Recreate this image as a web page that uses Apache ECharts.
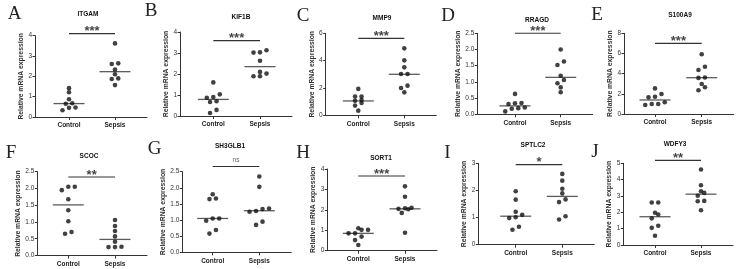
<!DOCTYPE html>
<html><head><meta charset="utf-8">
<script src="https://cdn.jsdelivr.net/npm/echarts@6/dist/echarts.min.js"></script>
<style>html,body{margin:0;padding:0;background:#fff}#c{width:737px;height:269px}</style>
</head><body><div id="c"></div>
<script>
// ---------- data ----------
const genes = ['ITGAM','KIF1B','MMP9','RRAGD','S100A9','SCOC','SH3GLB1','SORT1','SPTLC2','WDFY3'];
const letters = ['A','B','C','D','E','F','G','H','I','J'];
const groups = ['Control','Sepsis'];
const controlValues = [
  [1.42,1.22,0.87,0.68,0.65,0.47,0.45,0.33],
  [1.60,1.03,0.90,0.87,0.70,0.67,0.29,0.14],
  [1.93,1.37,1.37,1.12,1.07,0.90,0.71,0.34],
  [0.63,0.35,0.34,0.32,0.21,0.19,0.17,0.09],
  [2.54,1.98,1.71,1.65,1.16,0.99,0.99,0.89],
  [2.05,2.05,1.95,1.68,1.35,1.02,0.70,0.65],
  [1.80,1.67,1.65,1.05,1.05,0.98,0.69,0.58],
  [1.10,1.02,1.02,0.85,0.85,0.69,0.52,0.28],
  [1.97,1.66,1.21,1.10,1.01,0.98,0.66,0.55],
  [2.60,2.60,1.97,1.87,1.63,1.18,1.05,0.57]
];
const sepsisValues = [
  [3.62,2.64,2.61,2.34,2.10,1.90,1.87,1.57],
  [3.13,3.03,3.02,2.63,2.10,2.02,1.89,1.89],
  [4.90,4.02,3.51,3.02,3.02,2.17,2.00,1.68],
  [2.00,1.63,1.52,1.19,1.06,0.96,0.83,0.68],
  [5.92,4.69,4.36,3.62,3.58,2.97,2.65,2.35],
  [1.06,0.88,0.73,0.57,0.41,0.26,0.25,0.25],
  [2.35,2.03,1.36,1.34,1.28,1.26,0.95,0.85],
  [3.15,2.64,2.10,2.08,2.05,2.03,1.85,0.88],
  [2.61,2.36,2.06,1.89,1.67,1.57,1.05,0.93],
  [4.62,3.66,3.29,3.19,3.01,2.70,2.68,2.13]
];
const controlMedian = [0.66,0.79,1.05,0.26,1.39,1.51,1.05,0.85,1.05,1.73];
const sepsisMedian  = [2.23,2.35,3.00,1.14,3.60,0.48,1.29,2.05,1.78,3.11];
const significance  = ['***','***','***','***','***','**','ns','***','*','**'];
const bracketHeight = [4.10,3.59,5.63,2.50,7.00,2.34,2.66,3.66,2.95,5.18];
const yMax  = [4,4,6,2.5,8,2.5,2.5,4,3,5];
const yStep = [1,1,2,0.5,2,0.5,0.5,1,1,1];
const yAxisTitle = 'Relative mRNA expression';

// ---------- layout (pixels) ----------
// [axisX, controlX, sepsisX, yTop, yZero]
const panelBox = [
  [35,69,115,35.7,117],[180,213.3,260,32,116],[325.7,358.3,404.3,33.3,115.3],
  [477.3,515,560.7,33.3,114.3],[624,655,701.7,33.3,114],
  [37.3,68.3,115,171.7,255.5],[182.3,212.7,259.3,171.7,252.3],[327.3,358.3,405,169,250.7],
  [478.3,515.7,562.3,163.3,244.7],[623.3,655,701,163.3,245]
];
const titlePos  = [[88,14.5],[241,17.5],[382,18.5],[537,20],[680,15],[89,156],[230,146.5],[381,157.8],[533,145.7],[675,144]];
const letterPos = [[14.5,14.5],[151,10.7],[303,16.3],[448,16.2],[597,15.5],[11,152.8],[154.7,149],[303,153],[447.5,153.5],[595,152]];
const nameOffset = [10.8,11.8,11.5,12.5,14,19.5,16.5,13,8.3,13.3];

const FONT = 'Liberation Sans, Arial, sans-serif';
const AX = '#333';

function swarm(values, pxPerUnit, step, thr) {
  const idx = values.map((v,i)=>i).sort((a,b)=>values[a]-values[b]);
  const off = new Array(values.length).fill(0);
  let row = [];
  const flush = () => { row.forEach((id,k)=>{ off[id] = (k-(row.length-1)/2)*step; }); row = []; };
  idx.forEach(id => {
    if (row.length && (values[id]-values[row[0]])*pxPerUnit > thr) flush();
    row.push(id);
  });
  flush();
  return off;
}

const grid=[], xAxis=[], yAxis=[], series=[], graphic=[];
genes.forEach((g,i)=>{
  const [ax, cx, sx, yt, y0] = panelBox[i];
  const sp = sx - cx;
  const padR = 32;
  grid.push({left:ax, top:yt, width:sx+padR-ax, height:y0-yt, containLabel:false});
  xAxis.push({
    gridIndex:i, type:'value', min:-(cx-ax)/sp, max:1+padR/sp,
    splitLine:{show:false},
    axisLine:{show:true, onZero:false, lineStyle:{color:AX, width:1}},
    axisTick:{show:true, customValues:[0,1], length:3, lineStyle:{color:AX}},
    axisLabel:{show:true, customValues:[0,1], formatter:v=>groups[Math.round(v)], margin:5,
      fontFamily:FONT, fontSize:6.5, fontWeight:'bold', color:'#222'}
  });
  const dec = yStep[i] < 1;
  yAxis.push({
    gridIndex:i, type:'value', min:0, max:yMax[i], interval:yStep[i],
    splitLine:{show:false},
    axisLine:{show:true, onZero:false, lineStyle:{color:AX, width:1}},
    axisTick:{show:true, length:2.5, lineStyle:{color:AX}},
    axisLabel:{margin:3, fontFamily:FONT, fontSize:6.5, color:'#333',
      formatter:v=> dec ? v.toFixed(1) : String(v)},
    name:yAxisTitle, nameLocation:'middle', nameGap:nameOffset[i]-3.4,
    nameTextStyle:{fontFamily:FONT, fontSize:6.8, fontWeight:'bold', color:'#333'}
  });
  const ppu = (y0-yt)/yMax[i];
  [controlValues[i], sepsisValues[i]].forEach((vals, gi)=>{
    const off = swarm(vals, ppu, 6.5, 4);
    series.push({
      type:'scatter', xAxisIndex:i, yAxisIndex:i, symbol:'circle', symbolSize:4.6,
      itemStyle:{color:'#111'}, silent:true, z:3, clip:false,
      data: vals.map((v,k)=>({value:[gi, v], symbolOffset:[off[k],0]}))
    });
  });
  // medians
  series.push({
    type:'scatter', xAxisIndex:i, yAxisIndex:i, symbol:'rect', symbolSize:[31,1.3],
    itemStyle:{color:'#333'}, silent:true, z:2, clip:false,
    data:[[0, controlMedian[i]],[1, sepsisMedian[i]]]
  });
  // bracket
  series.push({
    type:'line', xAxisIndex:i, yAxisIndex:i, symbol:'none', silent:true, clip:false,
    lineStyle:{color:'#333', width:1.1},
    data:[[0, bracketHeight[i]],[1, bracketHeight[i]]]
  });
  const ns = significance[i] === 'ns';
  series.push({
    type:'scatter', xAxisIndex:i, yAxisIndex:i, symbolSize:0, silent:true, clip:false,
    data:[[0.5, bracketHeight[i]]],
    label:{show:true, position:'inside', formatter:significance[i],
      offset: ns ? [0,-6.5] : [0,-2],
      fontFamily:FONT, fontSize: ns ? 6.5 : 13, fontWeight: ns ? 'normal' : 'bold',
      color: ns ? '#333' : '#111', verticalAlign:'middle', align:'center'}
  });
  graphic.push({type:'text', x:titlePos[i][0], y:titlePos[i][1], silent:true,
    style:{text:g, fill:'#111', font:'bold 6.5px '+FONT, align:'center', verticalAlign:'middle',
      textAlign:'center', textVerticalAlign:'middle'}});
  graphic.push({type:'text', x:letterPos[i][0], y:letterPos[i][1], silent:true,
    style:{text:letters[i], fill:'#222', font:'19px "Liberation Serif", "Times New Roman", serif',
      align:'center', verticalAlign:'middle', textAlign:'center', textVerticalAlign:'middle'}});
});

const chart = echarts.init(document.getElementById('c'), null, {renderer:'canvas'});
chart.setOption({animation:false, backgroundColor:'#fff', grid, xAxis, yAxis, series, graphic});
</script>
</body></html>
